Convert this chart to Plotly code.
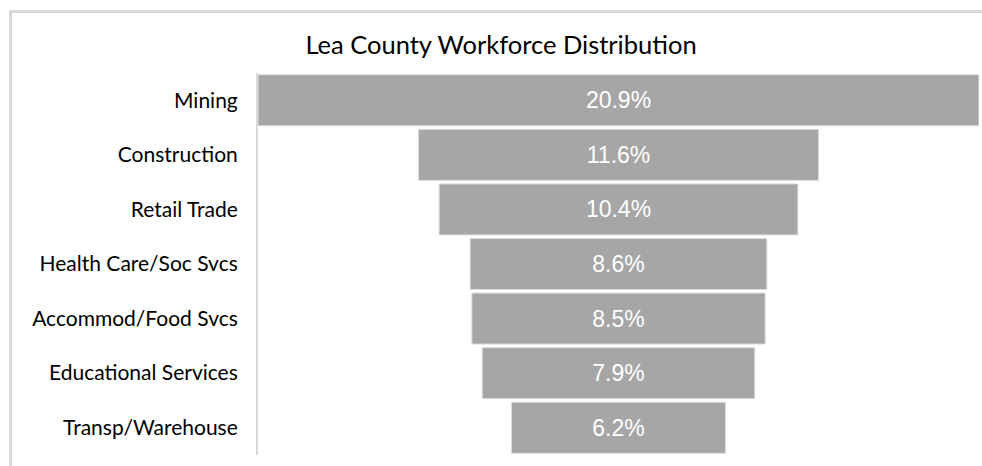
import plotly.graph_objects as go

# Lea County workforce share by industry (percent)
industries = [
    'Mining',
    'Construction',
    'Retail Trade',
    'Health Care/Soc Svcs',
    'Accommod/Food Svcs',
    'Educational Services',
    'Transp/Warehouse',
]
shares = [20.9, 11.6, 10.4, 8.6, 8.5, 7.9, 6.2]

W, H = 982, 466
L, R, T, B = 258, 3, 73, 11
pw, ph = W - L - R, H - T - B


def px_x(v):
    return (v - L) / pw


def px_y(v):
    return (H - B - v) / ph


fig = go.Figure(go.Funnel(
    y=industries,
    x=shares,
    texttemplate='%{x:.1f}%',
    textposition='inside',
    textfont=dict(family='Liberation Sans, Arial', size=23, color='white'),
    marker=dict(color='#a6a6a6', line=dict(color='#dcdcdc', width=1)),
    connector=dict(visible=False),
    hoverinfo='y+x',
))

# light grey chart frame (top and left edges visible)
fig.add_shape(
    type='rect', xref='paper', yref='paper',
    x0=px_x(10.5), x1=px_x(1100), y0=px_y(11.5), y1=px_y(600),
    line=dict(color='#d9d9d9', width=3), fillcolor='rgba(0,0,0,0)',
    layer='below',
)

fig.update_layout(
    width=W, height=H,
    margin=dict(l=L, r=R, t=T, b=B),
    paper_bgcolor='white',
    plot_bgcolor='white',
    title=dict(
        text='Lea County Workforce Distribution',
        x=501 / W, xanchor='center',
        y=1 - 45 / H, yanchor='middle',
        font=dict(family='Lato, Open Sans', size=25.5, color='black'),
    ),
    xaxis=dict(visible=False, range=[-shares[0] / 2, shares[0] / 2]),
    yaxis=dict(
        showline=True, linecolor='#d9d9d9', linewidth=2,
        ticks='', ticklabelstandoff=14,
        tickfont=dict(family='Lato, Open Sans', size=21, color='black'),
        showgrid=False,
    ),
    showlegend=False,
    funnelgap=0.065,
)

# drop the default page margin so the figure fills the window exactly
fig.write_html(
    'out.html',
    config={'displayModeBar': False},
    post_script="document.body.style.margin='0';document.body.style.overflow='hidden';",
)
